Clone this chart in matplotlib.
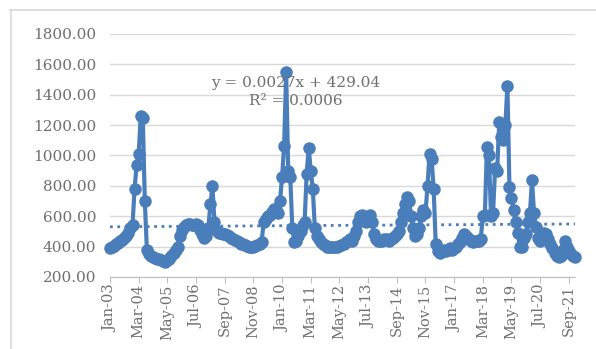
import numpy as np
import pandas as pd
import matplotlib
matplotlib.use("Agg")
import matplotlib.pyplot as plt
from matplotlib.lines import Line2D
from matplotlib.transforms import blended_transform_factory

# monthly values, Jan-2003 .. Dec-2021
v2003 = [390, 395, 405, 415, 425, 435, 445, 455, 470, 490, 520, 545]
v2004 = [780, 940, 1010, 1260, 1250, 700, 380, 350, 340, 330, 325, 320]
v2005 = [320, 315, 305, 300, 310, 320, 340, 360, 380, 400, 470, 510]
v2006 = [530, 540, 550, 550, 545, 540, 550, 540, 510, 480, 455, 470]
v2007 = [520, 680, 800, 560, 500, 490, 490, 480, 480, 475, 470, 460]
v2008 = [450, 445, 440, 430, 420, 415, 410, 405, 400, 400, 400, 405]
v2009 = [410, 420, 430, 560, 580, 600, 610, 630, 650, 640, 620, 700]
v2010 = [860, 1060, 1550, 900, 860, 520, 430, 440, 470, 500, 540, 560]
v2011 = [880, 1050, 900, 780, 520, 470, 450, 430, 420, 410, 400, 400]
v2012 = [400, 395, 400, 400, 405, 410, 420, 430, 440, 450, 440, 470]
v2013 = [500, 560, 600, 610, 580, 560, 590, 610, 560, 480, 450, 440]
v2014 = [440, 440, 450, 450, 440, 450, 460, 470, 480, 500, 560, 620]
v2015 = [680, 730, 700, 600, 520, 470, 480, 520, 600, 640, 620, 800]
v2016 = [1010, 980, 780, 420, 370, 360, 370, 380, 370, 380, 390, 380]
v2017 = [390, 400, 420, 430, 460, 480, 470, 460, 440, 430, 440, 440]
v2018 = [440, 450, 600, 610, 1055, 1000, 600, 620, 920, 900, 1220, 1120]
v2019 = [1100, 1200, 1460, 790, 720, 640, 560, 490, 400, 400, 460, 480]
v2020 = [560, 620, 840, 620, 530, 460, 440, 480, 490, 480, 450, 420]
v2021 = [390, 360, 340, 330, 340, 380, 440, 400, 370, 350, 340, 330]

values = (v2003 + v2004 + v2005 + v2006 + v2007 + v2008 + v2009 + v2010 + v2011
          + v2012 + v2013 + v2014 + v2015 + v2016 + v2017 + v2018 + v2019 + v2020 + v2021)

tick_labels = ["Jan-03", "Mar-04", "May-05", "Jul-06", "Sep-07", "Nov-08", "Jan-10",
               "Mar-11", "May-12", "Jul-13", "Sep-14", "Nov-15", "Jan-17", "Mar-18",
               "May-19", "Jul-20", "Sep-21"]

# excel linear trendline (x = excel date serial)
slope = 0.0027
intercept = 429.04

blue = "#4a7ebb"
gray_txt = "#6f6f6f"
grid_c = "#d9d9d9"

def main():
    plt.rcParams["font.family"] = "DejaVu Serif"
    fig = plt.figure(figsize=(5.96, 3.49), dpi=100)
    ax = fig.add_axes([110 / 596, 1 - 277 / 349, 465 / 596, 243 / 349])

    dates = pd.date_range("2003-01-01", periods=len(values), freq="MS")
    serial = (dates - pd.Timestamp("1899-12-30")).days.values
    x = np.arange(len(values))

    trend = slope * serial + intercept
    ax.plot(x, trend, linestyle=":", color=blue, linewidth=2.0, zorder=2)
    ax.plot(x, values, color=blue, linewidth=3.0, marker="o", markersize=8,
            clip_on=False, zorder=3)

    ax.set_xlim(0, len(values) - 1)
    ax.set_ylim(200, 1800)
    ax.set_yticks(np.arange(200, 1801, 200))
    ax.set_yticklabels([f"{t:.2f}" for t in np.arange(200, 1801, 200)])
    ax.yaxis.grid(True, color=grid_c, linewidth=1.0)
    ax.set_axisbelow(True)

    for s in ["top", "right", "left"]:
        ax.spines[s].set_visible(False)
    ax.spines["bottom"].set_color("#bfbfbf")
    ax.tick_params(axis="y", length=0, pad=10, labelsize=11, labelcolor=gray_txt)
    ax.tick_params(axis="x", length=4, color="#bfbfbf", labelbottom=False)

    xt = np.arange(len(tick_labels)) * 14
    ax.set_xticks(xt)
    tr = blended_transform_factory(ax.transData, ax.transAxes)
    for xi, lbl in zip(xt, tick_labels):
        ax.text(xi, -0.03, lbl, transform=tr, rotation=90, ha="center", va="top",
                fontsize=10.5, color=gray_txt, clip_on=False)

    ax.text(0.40, 0.80, "y = 0.0027x + 429.04", transform=ax.transAxes,
            ha="center", va="center", fontsize=11, color=gray_txt)
    ax.text(0.40, 0.725, "R² = 0.0006", transform=ax.transAxes,
            ha="center", va="center", fontsize=11, color=gray_txt)

    # chart area border (only top and left visible in the crop)
    fig.add_artist(Line2D([10 / 596, 1], [1 - 10 / 349, 1 - 10 / 349],
                          transform=fig.transFigure, color=grid_c, linewidth=1.2))
    fig.add_artist(Line2D([11 / 596, 11 / 596], [0, 1 - 10 / 349],
                          transform=fig.transFigure, color=grid_c, linewidth=1.2))

    fig.savefig("out.png", dpi=100)

if __name__ == "__main__":
    main()
